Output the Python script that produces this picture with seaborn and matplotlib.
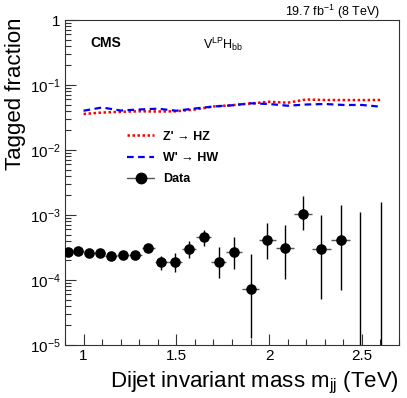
import numpy as np
import seaborn as sns
import matplotlib
matplotlib.use("Agg")
import matplotlib.pyplot as plt
from matplotlib.lines import Line2D
from matplotlib.ticker import FixedLocator, FixedFormatter, MultipleLocator, LogLocator

# dijet mass bin edges (TeV)
bin_edges = [0.890, 0.944, 1.000, 1.058, 1.118, 1.181, 1.246, 1.313, 1.383, 1.455,
             1.530, 1.607, 1.687, 1.770, 1.856, 1.945, 2.037, 2.132, 2.231, 2.332,
             2.438, 2.546, 2.659]

# data tagged fraction and error band (low / high)
data_frac = [2.67e-4, 2.83e-4, 2.57e-4, 2.60e-4, 2.31e-4, 2.42e-4, 2.45e-4, 3.09e-4,
             1.87e-4, 1.87e-4, 3.00e-4, 4.54e-4, 1.91e-4, 2.67e-4, 7.3e-5, 4.18e-4,
             3.09e-4, 1.03e-3, 3.00e-4, 4.18e-4, 0.0, 0.0]
data_lo = [2.50e-4, 2.66e-4, 2.40e-4, 2.43e-4, 2.15e-4, 2.25e-4, 2.27e-4, 2.70e-4,
           1.42e-4, 1.31e-4, 2.16e-4, 3.37e-4, 1.06e-4, 1.48e-4, 1.29e-5, 2.11e-4,
           1.03e-4, 5.9e-4, 5.1e-5, 7.1e-5, 0.0, 0.0]
data_hi = [2.85e-4, 3.01e-4, 2.75e-4, 2.78e-4, 2.48e-4, 2.60e-4, 2.63e-4, 3.55e-4,
           2.31e-4, 2.57e-4, 4.03e-4, 5.94e-4, 3.25e-4, 4.54e-4, 2.52e-4, 7.55e-4,
           6.98e-4, 1.95e-3, 1.00e-3, 1.43e-3, 1.10e-3, 1.60e-3]

# signal efficiencies vs resonance mass
sig_mass = [1.0, 1.1, 1.2, 1.3, 1.4, 1.5, 1.6, 1.7, 1.8, 1.9, 2.0, 2.1, 2.2, 2.3, 2.4, 2.5, 2.6]
zprime_hz = [0.0358, 0.0377, 0.0387, 0.0394, 0.0391, 0.0394, 0.0420, 0.0467, 0.0489,
             0.0519, 0.0552, 0.0534, 0.0598, 0.0588, 0.0586, 0.0586, 0.0588]
wprime_hw = [0.0402, 0.0451, 0.0405, 0.0420, 0.0432, 0.0402, 0.0435, 0.0467, 0.0487,
             0.0523, 0.0510, 0.0480, 0.0501, 0.0510, 0.0493, 0.0493, 0.0464]

yticks = [1e-5, 1e-4, 1e-3, 1e-2, 1e-1, 1]
ytick_labels = ['10$^{-5}$', '10$^{-4}$', '10$^{-3}$', '10$^{-2}$', '10$^{-1}$', '1']

sns.set_style("ticks")
plt.rcParams['font.family'] = ['Liberation Sans', 'DejaVu Sans']
plt.rcParams['text.color'] = 'black'
plt.rcParams['axes.labelcolor'] = 'black'
plt.rcParams['xtick.color'] = 'black'
plt.rcParams['ytick.color'] = 'black'
plt.rcParams['mathtext.fontset'] = 'custom'
plt.rcParams['mathtext.rm'] = 'Liberation Sans'
plt.rcParams['mathtext.it'] = 'Liberation Sans'
plt.rcParams['mathtext.bf'] = 'Liberation Sans:bold'

edges = np.array(bin_edges)
xc = 0.5 * (edges[1:] + edges[:-1])
xw = 0.5 * (edges[1:] - edges[:-1])
y = np.array(data_frac)
lo = np.array(data_lo)
hi = np.array(data_hi)
nz = y > 0

fig = plt.figure(figsize=(4.07, 3.98), dpi=100)
ax = fig.add_axes([65 / 407, 53 / 398, 334 / 407, 325 / 398])

sns.lineplot(x=sig_mass, y=zprime_hz, ax=ax, color='red', lw=1.8,
             linestyle=(0, (1, 1)))
sns.lineplot(x=sig_mass, y=wprime_hw, ax=ax, color='blue', lw=1.6,
             linestyle=(0, (3, 2)))

# horizontal (bin width) and vertical error bars
ax.errorbar(xc[nz], y[nz], xerr=xw[nz], fmt='none', ecolor='#555555', elinewidth=1.0)
ax.errorbar(xc[nz], y[nz], yerr=[y[nz] - lo[nz], hi[nz] - y[nz]], fmt='none',
            ecolor='black', elinewidth=1.0)
ax.vlines(xc[~nz], 1e-6, hi[~nz], color='black', lw=1.0)
sns.scatterplot(x=xc[nz], y=y[nz], ax=ax, color='black', s=58, edgecolor='black',
                linewidth=0, zorder=5)

ax.set_yscale('log')
ax.set_xlim(0.9, 2.7)
ax.set_ylim(1e-5, 1)
ax.yaxis.set_major_locator(FixedLocator(yticks))
ax.yaxis.set_major_formatter(FixedFormatter(ytick_labels))
ax.yaxis.set_minor_locator(LogLocator(base=10, subs=np.arange(2, 10), numticks=20))
ax.xaxis.set_minor_locator(MultipleLocator(0.1))
ax.set_xticks([1, 1.5, 2, 2.5])
ax.set_xticklabels(['1', '1.5', '2', '2.5'])
ax.tick_params(which='both', direction='in', left=True, bottom=True,
               top=False, right=False, color='#333333', width=0.8)
ax.tick_params(which='major', length=8, labelsize=11, pad=3)
ax.tick_params(which='minor', length=4)
for s in ax.spines.values():
    s.set_linewidth(0.8)
    s.set_color('#333333')

handles = [Line2D([], [], color='red', lw=1.8, linestyle=(0, (1, 1))),
           Line2D([], [], color='blue', lw=1.6, linestyle=(0, (3, 2))),
           Line2D([], [], color='#555555', lw=1.0, marker='o', markersize=7.5,
                  markerfacecolor='black', markeredgecolor='black')]
labels = ["Z' \u2192 HZ", "W' \u2192 HW", "Data"]
ax.legend(handles, labels, loc='upper left', bbox_to_anchor=(0.185, 0.66),
          frameon=False, borderpad=0, borderaxespad=0, handlelength=2.2,
          handletextpad=0.7, labelspacing=0.75,
          prop={'size': 9, 'weight': 'bold'})

fig.text(90 / 407, 1 - 43 / 398, 'CMS', fontsize=10, fontweight='bold',
         ha='left', va='center')
fig.text(203 / 407, 1 - 44 / 398, 'V$^{LP}$H$_{bb}$', fontsize=9,
         ha='left', va='center')
fig.text(380 / 407, 1 - 12 / 398, '19.7 fb$^{-1}$ (8 TeV)', fontsize=9,
         ha='right', va='center')
fig.text(16 / 407, 1 - 18 / 398, 'Tagged fraction', fontsize=16, rotation=90,
         ha='center', va='top')
fig.text(399 / 407, 1 - 387 / 398, 'Dijet invariant mass m$_{\\mathrm{jj}}$ (TeV)',
         fontsize=16, ha='right', va='baseline')

fig.savefig('out.png', dpi=100)
